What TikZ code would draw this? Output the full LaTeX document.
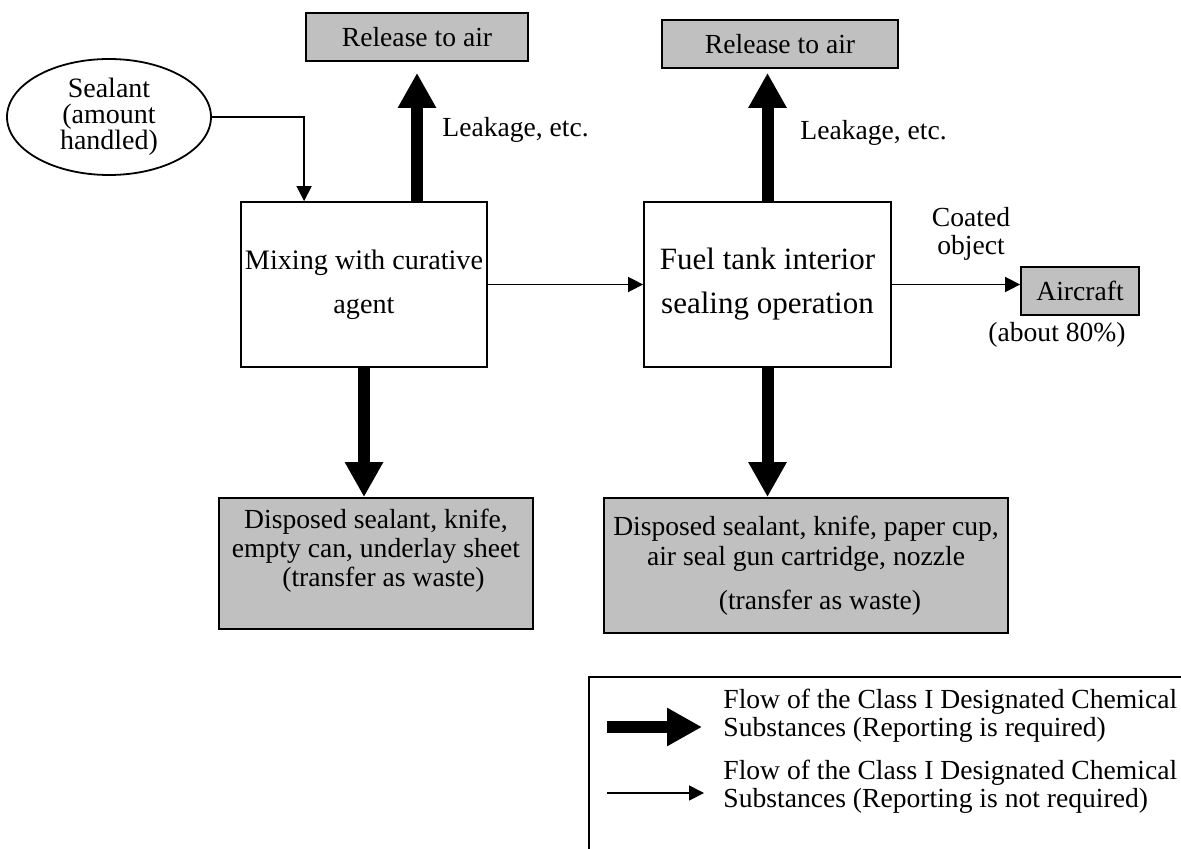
\documentclass[tikz,border=0pt]{standalone}
\usepackage{fontspec}
\setmainfont{Liberation Serif}
\usetikzlibrary{arrows.meta,shapes.geometric}
\definecolor{boxgray}{RGB}{192,192,192}
\begin{document}
\begin{tikzpicture}[x=0.5pt,y=-0.5pt,
  txt/.style={font=\fontsize{13.8}{14}\selectfont,inner sep=0pt,align=center},
  box/.style={draw,line width=0.9pt,inner sep=0pt,align=center,font=\fontsize{13.8}{14}\selectfont},
  outbox/.style={box,fill=boxgray},
  thickflow/.style={line width=6pt,-{Triangle[width=18pt,length=17.5pt]}},
  thinflow/.style={line width=0.8pt,-{Triangle[width=7.5pt,length=7.5pt]}}]
\clip (0,0) rectangle (1181,849);
\fill[white] (0,0) rectangle (1181,849);
% nodes
\node[outbox,minimum width=111pt,minimum height=24pt] (rel1) at (417,37) {Release to air};
\node[outbox,minimum width=118pt,minimum height=24pt] (rel2) at (780,44) {Release to air};
\node[draw,line width=0.9pt,ellipse,minimum width=102pt,minimum height=58pt,inner sep=0pt,align=center,font=\fontsize{14}{13}\selectfont] (seal) at (109,117) {Sealant\\(amount\\handled)};
\node[box,minimum width=123pt,minimum height=82.5pt,font=\fontsize{14.1}{22}\selectfont] (mix) at (364,284.5) {Mixing with curative\\agent};
\node[box,minimum width=123.5pt,minimum height=82.5pt,font=\fontsize{15.5}{22}\selectfont] (fuel) at (767.5,284.5) {Fuel tank interior\\sealing operation};
\node[outbox,minimum width=59pt,minimum height=24pt] (air) at (1080,291) {Aircraft};
\node[outbox,minimum width=157pt,minimum height=65.5pt] (waste1) at (376,563.5) {};
\node[outbox,minimum width=202pt,minimum height=67.5pt] (waste2) at (806,565.5) {};
\node[txt,font=\fontsize{13.8}{14.5}\selectfont] (w1t) at (376,551) {Disposed sealant, knife,\\empty can, underlay sheet\\\hspace*{7.5pt}(transfer as waste)};
\node[txt,font=\fontsize{13.8}{15}\selectfont] (w2t) at (806,566) {Disposed sealant, knife, paper cup,\\air seal gun cartridge, nozzle\\[7pt]\hspace*{14pt}(transfer as waste)};
\node[txt,anchor=west] (leak1) at (442,130) {Leakage, etc.};
\node[txt,anchor=west] (leak2) at (800,133) {Leakage, etc.};
\node[txt] (coated) at (971,234) {Coated\\object};
\node[txt] (about) at (1057,335) {(about 80\%)};
% connectors
\coordinate (sealin) at ([xshift=32pt]mix.north west);
\draw[thinflow] (seal.east) -| (sealin);
\draw[thickflow,shorten >=5.5pt] (mix.north -| rel1.south) -- (rel1.south);
\draw[thickflow,shorten >=2pt] (fuel.north) -- (fuel.north |- rel2.south);
\draw[thickflow] (mix.south) -- (mix.south |- waste1.north);
\draw[thickflow] (fuel.south) -- (fuel.south |- waste2.north);
\draw[thinflow] (mix.east) -- (fuel.west);
\draw[thinflow] (fuel.east) -- (fuel.east -| air.west);
% legend
\draw[line width=0.9pt] (589,677) rectangle (1200,870);
\coordinate (l1a) at (607,727);
\coordinate (l1b) at (702,727);
\coordinate (l2a) at (607,793);
\coordinate (l2b) at (704,793);
\draw[thickflow] (l1a) -- (l1b);
\draw[thinflow] (l2a) -- (l2b);
\node[txt,anchor=west,align=left] (leg1) at (723,716) {Flow of the Class I Designated Chemical\\Substances (Reporting is required)};
\node[txt,anchor=west,align=left] (leg2) at (723,787) {Flow of the Class I Designated Chemical\\Substances (Reporting is not required)};
\end{tikzpicture}
\end{document}
